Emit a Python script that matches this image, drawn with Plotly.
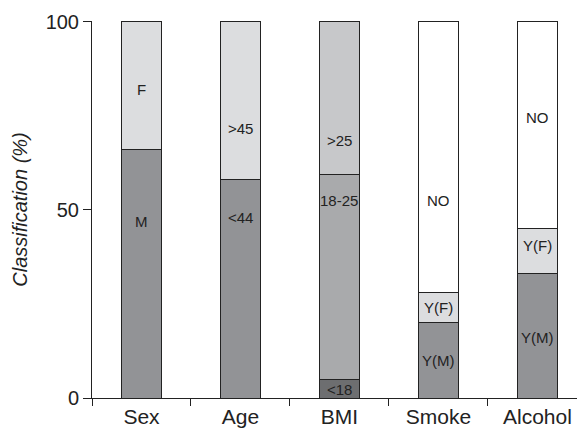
import plotly.graph_objects as go

categories = ["Sex", "Age", "BMI", "Smoke", "Alcohol"]

# stacked segments, bottom to top
layer1_vals = [66, 58, 5, 20, 33]
layer1_text = ["M", "<44", "<18", "Y(M)", "Y(M)"]
layer1_colors = ["#929396", "#929396", "#6d6e70", "#929396", "#929396"]

layer2_vals = [34, 42, 54.5, 8, 12]
layer2_text = ["F", ">45", "18-25", "Y(F)", "Y(F)"]
layer2_colors = ["#dcdddf", "#dcdddf", "#a9aaac", "#dcdddf", "#dcdddf"]

layer3_vals = [0, 0, 40.5, 72, 55]
layer3_text = ["", "", ">25", "NO", "NO"]
layer3_colors = ["#ffffff", "#ffffff", "#c7c8ca", "#ffffff", "#ffffff"]

# label heights (in % units)
label_y1 = [47, 48, 2.3, 10, 16]
label_y2 = [82, 71.5, 52.5, 24, 40.5]
label_y3 = [None, None, 68.5, 52.5, 74.5]

FONT = "Liberation Sans, Arial, sans-serif"

fig = go.Figure()
line = dict(color="#222222", width=1)
for vals, cols in [(layer1_vals, layer1_colors), (layer2_vals, layer2_colors), (layer3_vals, layer3_colors)]:
    fig.add_trace(go.Bar(x=categories, y=vals, width=0.4, hoverinfo="skip",
                         marker=dict(color=cols, line=line), showlegend=False))

for texts, ys in [(layer1_text, label_y1), (layer2_text, label_y2), (layer3_text, label_y3)]:
    for c, t, yy in zip(categories, texts, ys):
        if t and yy is not None:
            fig.add_annotation(x=c, y=yy, text=t, showarrow=False,
                               font=dict(size=15, color="#222222", family=FONT))

fig.update_layout(
    barmode="stack",
    width=577, height=430,
    margin=dict(l=92, r=0, t=21, b=32),
    plot_bgcolor="white", paper_bgcolor="white",
    font=dict(family=FONT, color="#222222", size=20),
    xaxis=dict(range=[-0.5, 4.4], showline=True, linecolor="#222222", linewidth=1,
               ticks="outside", tickson="boundaries", ticklen=7, tickcolor="#222222",
               showgrid=False, zeroline=False, tickfont=dict(size=21)),
    yaxis=dict(range=[0, 100.2], tickvals=[0, 50, 100], showline=True,
               linecolor="#222222", linewidth=1, ticks="outside", ticklen=8,
               tickcolor="#222222", showgrid=False, zeroline=False,
               tickfont=dict(size=20),
               title=dict(text="<i>Classification (%)</i>", font=dict(size=20), standoff=12)),
)

fig.write_html("out.html", config={"displayModeBar": False},
               post_script="document.body.style.margin='0';document.body.style.overflow='hidden';")
